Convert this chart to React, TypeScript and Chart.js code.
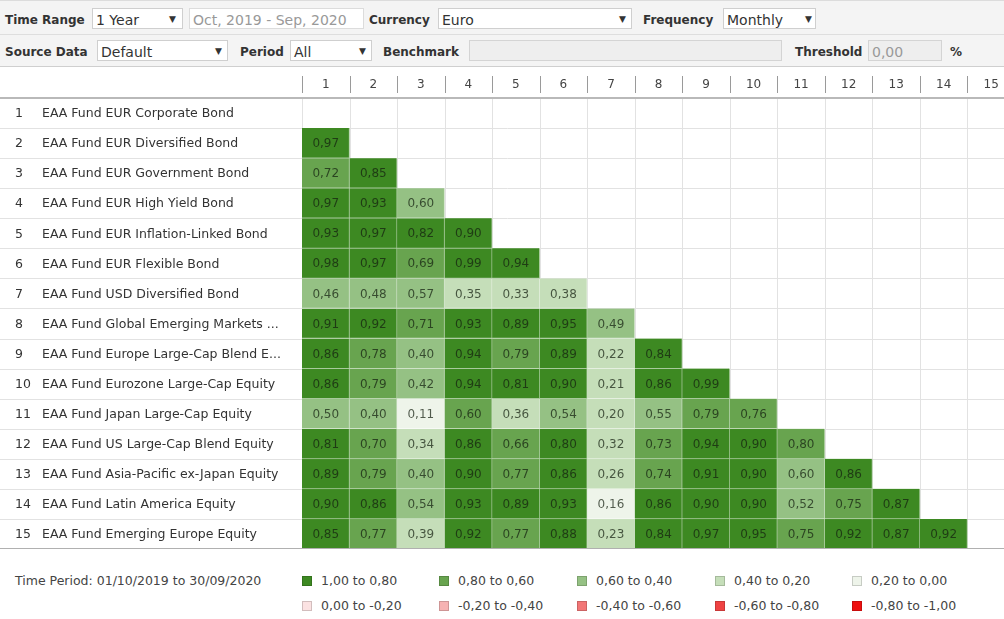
import React, { useEffect, useRef } from 'react';
import { Chart, registerables } from 'chart.js';

Chart.register(...registerables);

// ---------- DATA ----------
const columnLabels = ['1', '2', '3', '4', '5', '6', '7', '8', '9', '10', '11', '12', '13', '14', '15'];
const rowNumbers = ['1', '2', '3', '4', '5', '6', '7', '8', '9', '10', '11', '12', '13', '14', '15'];
const fundNames = [
  'EAA Fund EUR Corporate Bond',
  'EAA Fund EUR Diversified Bond',
  'EAA Fund EUR Government Bond',
  'EAA Fund EUR High Yield Bond',
  'EAA Fund EUR Inflation-Linked Bond',
  'EAA Fund EUR Flexible Bond',
  'EAA Fund USD Diversified Bond',
  'EAA Fund Global Emerging Markets ...',
  'EAA Fund Europe Large-Cap Blend E...',
  'EAA Fund Eurozone Large-Cap Equity',
  'EAA Fund Japan Large-Cap Equity',
  'EAA Fund US Large-Cap Blend Equity',
  'EAA Fund Asia-Pacific ex-Japan Equity',
  'EAA Fund Latin America Equity',
  'EAA Fund Emerging Europe Equity',
];

// lower-triangle correlations (row i vs columns 1..i-1)
const row1: number[] = [];
const row2 = [0.97];
const row3 = [0.72, 0.85];
const row4 = [0.97, 0.93, 0.598];
const row5 = [0.93, 0.97, 0.82, 0.90];
const row6 = [0.98, 0.97, 0.69, 0.99, 0.94];
const row7 = [0.46, 0.48, 0.57, 0.35, 0.33, 0.38];
const row8 = [0.91, 0.92, 0.71, 0.93, 0.89, 0.95, 0.49];
const row9 = [0.86, 0.78, 0.402, 0.94, 0.79, 0.89, 0.22, 0.84];
const row10 = [0.86, 0.79, 0.42, 0.94, 0.81, 0.90, 0.21, 0.86, 0.99];
const row11 = [0.50, 0.402, 0.11, 0.602, 0.36, 0.54, 0.202, 0.55, 0.79, 0.76];
const row12 = [0.81, 0.70, 0.34, 0.86, 0.66, 0.802, 0.32, 0.73, 0.94, 0.90, 0.798];
const row13 = [0.89, 0.79, 0.402, 0.90, 0.77, 0.86, 0.26, 0.74, 0.91, 0.90, 0.598, 0.86];
const row14 = [0.90, 0.86, 0.54, 0.93, 0.89, 0.93, 0.16, 0.86, 0.90, 0.90, 0.52, 0.75, 0.87];
const row15 = [0.85, 0.77, 0.39, 0.92, 0.77, 0.88, 0.23, 0.84, 0.97, 0.95, 0.75, 0.92, 0.87, 0.92];
const correlationRows = [row1, row2, row3, row4, row5, row6, row7, row8, row9, row10, row11, row12, row13, row14, row15];

const binLabels = [
  '1,00 to 0,80', '0,80 to 0,60', '0,60 to 0,40', '0,40 to 0,20', '0,20 to 0,00',
  '0,00 to -0,20', '-0,20 to -0,40', '-0,40 to -0,60', '-0,60 to -0,80', '-0,80 to -1,00',
];
const binLowerBounds = [0.8, 0.6, 0.4, 0.2, 0.0, -0.2, -0.4, -0.6, -0.8, -1.0];
const binColors = [
  '#3d8922', '#68a44f', '#95c184', '#c5deb9', '#eef4ea',
  '#fbe2e2', '#f6b2b2', '#f27676', '#ef4343', '#ee1010',
];

const timePeriodText = 'Time Period: 01/10/2019 to 30/09/2020';

// ---------- helpers ----------
const FONT = "'DejaVu Sans', Verdana, sans-serif";

function binIndex(v: number): number {
  for (let i = 0; i < binLowerBounds.length; i++) if (v >= binLowerBounds[i]) return i;
  return binLowerBounds.length - 1;
}
function colorFor(v: number): string {
  return binColors[binIndex(v)];
}
function mixWhite(hex: string, t: number): string {
  const n = parseInt(hex.slice(1), 16);
  const r = (n >> 16) & 255, g = (n >> 8) & 255, b = n & 255;
  const m = (c: number) => Math.round(c + (255 - c) * t);
  return `rgb(${m(r)},${m(g)},${m(b)})`;
}
function fmt(v: number): string {
  return v.toFixed(2).replace('.', ',');
}

const tablePlugin = {
  id: 'tableDecor',
  beforeDatasetsDraw(chart: any) {
    const { ctx, chartArea, scales } = chart;
    const x = scales.x, y = scales.y;
    ctx.save();
    ctx.lineWidth = 1;
    ctx.strokeStyle = '#e2e2e2';
    for (let i = 0; i <= columnLabels.length; i++) {
      const px = Math.round(x.getPixelForValue(i - 0.5)) + 0.5;
      ctx.beginPath();
      ctx.moveTo(px, chartArea.top);
      ctx.lineTo(px, chartArea.bottom);
      ctx.stroke();
    }
    for (let i = 1; i < rowNumbers.length; i++) {
      const py = Math.round(y.getPixelForValue(i + 0.5)) + 0.5;
      ctx.beginPath();
      ctx.moveTo(0, py);
      ctx.lineTo(chart.width, py);
      ctx.stroke();
    }
    ctx.restore();
  },
  afterDatasetsDraw(chart: any) {
    const { ctx, chartArea, scales } = chart;
    const x = scales.x, y = scales.y;
    ctx.save();
    ctx.strokeStyle = '#b9b9b9';
    ctx.lineWidth = 2;
    const topY = Math.round(y.getPixelForValue(0.5));
    ctx.beginPath();
    ctx.moveTo(0, topY);
    ctx.lineTo(chart.width, topY);
    ctx.stroke();
    ctx.lineWidth = 1;
    ctx.strokeStyle = '#b0b0b0';
    const botY = Math.round(y.getPixelForValue(rowNumbers.length + 0.5)) - 0.5;
    ctx.beginPath();
    ctx.moveTo(0, botY);
    ctx.lineTo(chart.width, botY);
    ctx.stroke();
    ctx.strokeStyle = '#9a9a9a';
    for (let i = 0; i < columnLabels.length; i++) {
      const px = Math.round(x.getPixelForValue(i - 0.5)) + 0.5;
      ctx.beginPath();
      ctx.moveTo(px, chartArea.top - 22);
      ctx.lineTo(px, chartArea.top - 5);
      ctx.stroke();
    }
    ctx.fillStyle = '#333';
    ctx.textBaseline = 'middle';
    ctx.textAlign = 'left';
    ctx.font = `12.5px ${FONT}`;
    for (let r = 0; r < rowNumbers.length; r++) {
      const py = y.getPixelForValue(r + 1) + 1;
      ctx.fillText(rowNumbers[r], 15, py);
      ctx.fillText(fundNames[r], 42, py);
    }
    ctx.textAlign = 'center';
    ctx.font = `12px ${FONT}`;
    ctx.fillStyle = 'rgba(20,30,15,0.72)';
    chart.data.datasets.forEach((_ds: any, di: number) => {
      const meta = chart.getDatasetMeta(di);
      const vals = correlationRows[di + 1];
      meta.data.forEach((el: any, ci: number) => {
        if (ci >= vals.length) return;
        const cy = (el.y + el.base) / 2;
        ctx.fillText(fmt(vals[ci]), el.x, cy + 1);
      });
    });
    ctx.restore();
  },
};

function CorrelationChart() {
  const ref = useRef<HTMLCanvasElement | null>(null);
  useEffect(() => {
    if (!ref.current) return;
    const datasets = correlationRows.slice(1).map((vals, idx) => {
      const rowNum = idx + 2;
      return {
        label: fundNames[rowNum - 1],
        data: columnLabels.map((_, c) => (c < vals.length ? [rowNum - 0.5, rowNum + 0.5] : null)),
        backgroundColor: columnLabels.map((_, c) => (c < vals.length ? colorFor(vals[c]) : 'transparent')),
        borderColor: columnLabels.map((_, c) => (c < vals.length ? mixWhite(colorFor(vals[c]), 0.55) : 'transparent')),
        borderWidth: { top: 0, left: 0, right: 1, bottom: 1 },
        borderSkipped: false,
        barPercentage: 1,
        categoryPercentage: 1,
        grouped: false,
      };
    });
    const chart = new Chart(ref.current, {
      type: 'bar',
      data: { labels: columnLabels, datasets: datasets as any },
      options: {
        animation: false,
        responsive: true,
        maintainAspectRatio: false,
        layout: { padding: { left: 302, right: 0, top: 1, bottom: 1 } },
        plugins: { legend: { display: false }, tooltip: { enabled: false } },
        scales: {
          x: {
            type: 'category',
            position: 'top',
            offset: true,
            grid: { display: false, drawTicks: false },
            border: { display: false },
            ticks: {
              color: '#444',
              font: { family: FONT, size: 12 },
              padding: 6,
              maxRotation: 0,
              autoSkip: false,
            },
            afterFit: (scale: any) => {
              scale.height = 30;
            },
          },
          y: {
            type: 'linear',
            display: false,
            min: 0.5,
            max: 15.5,
            reverse: true,
          },
        },
      },
      plugins: [tablePlugin],
    });
    return () => chart.destroy();
  }, []);
  return (
    <div style={{ position: 'relative', width: 1015, height: 483 }}>
      <canvas ref={ref} />
    </div>
  );
}

const labelStyle: React.CSSProperties = {
  position: 'absolute',
  fontFamily: FONT,
  fontWeight: 'bold',
  fontSize: 12,
  color: '#333',
  lineHeight: '21px',
  whiteSpace: 'nowrap',
};

function Label({ x, y, text }: { x: number; y: number; text: string }) {
  return <div style={{ ...labelStyle, left: x, top: y }}>{text}</div>;
}

function Box({ x, y, w, text, arrowX, bg, color, border }: { x: number; y: number; w: number; text: string; arrowX?: number; bg?: string; color?: string; border?: string }) {
  return (
    <div
      style={{
        position: 'absolute',
        left: x,
        top: y,
        width: w,
        height: 21,
        boxSizing: 'border-box',
        border: `1px solid ${border || '#cfcfcf'}`,
        background: bg || '#fff',
        fontFamily: FONT,
        fontSize: 14,
        color: color || '#333',
        lineHeight: '22px',
        paddingLeft: 3,
        whiteSpace: 'nowrap',
        overflow: 'hidden',
      }}
    >
      {text}
      {arrowX !== undefined && (
        <span style={{ position: 'absolute', left: arrowX - x - 5, top: 0, fontSize: 9, lineHeight: '21px', color: '#333' }}>▼</span>
      )}
    </div>
  );
}

function Toolbar() {
  return (
    <div style={{ position: 'relative', width: 1004, height: 67, background: '#f4f4f4', boxSizing: 'border-box', borderTop: '1px solid #dcdcdc', borderBottom: '1px solid #cfcfcf' }}>
      <div style={{ position: 'absolute', left: 0, top: 33, width: 1004, height: 1, background: '#dedede' }} />
      <Label x={5} y={9} text="Time Range" />
      <Box x={92} y={7} w={91} text="1 Year" arrowX={173} />
      <Box x={189} y={7} w={175} text="Oct, 2019 - Sep, 2020" color="#999" border="#dcdcdc" />
      <Label x={369} y={9} text="Currency" />
      <Box x={438} y={7} w={194} text="Euro" arrowX={623} />
      <Label x={643} y={9} text="Frequency" />
      <Box x={723} y={7} w={93} text="Monthly" arrowX={809} />

      <Label x={5} y={41} text="Source Data" />
      <Box x={97} y={39} w={131} text="Default" arrowX={219} />
      <Label x={240} y={41} text="Period" />
      <Box x={290} y={39} w={82} text="All" arrowX={363} />
      <Label x={383} y={41} text="Benchmark" />
      <Box x={469} y={39} w={313} text="" bg="#eeeeee" border="#d4d4d4" />
      <Label x={795} y={41} text="Threshold" />
      <Box x={868} y={39} w={74} text="0,00" bg="#eeeeee" color="#999" border="#d4d4d4" />
      <Label x={950} y={41} text="%" />
    </div>
  );
}

const legendXs = [302, 439, 577, 715, 852];

function Legend() {
  const textStyle: React.CSSProperties = {
    position: 'absolute',
    fontFamily: FONT,
    fontSize: 12.5,
    color: '#444',
    lineHeight: '16px',
    whiteSpace: 'nowrap',
  };
  return (
    <div style={{ position: 'relative', width: 1004, height: 69, background: '#fff' }}>
      <div style={{ ...textStyle, left: 15, top: 23 }}>{timePeriodText}</div>
      {binLabels.map((lab, i) => {
        const col = i % 5;
        const row = Math.floor(i / 5);
        const cy = 31 + row * 25;
        return (
          <React.Fragment key={lab}>
            <div
              style={{
                position: 'absolute',
                left: legendXs[col],
                top: cy - 5,
                width: 10,
                height: 10,
                boxSizing: 'border-box',
                background: binColors[i],
                border: '1px solid rgba(0,0,0,0.16)',
              }}
            />
            <div style={{ ...textStyle, left: legendXs[col] + 19, top: cy - 8 }}>{lab}</div>
          </React.Fragment>
        );
      })}
    </div>
  );
}

export default function App() {
  useEffect(() => {
    document.body.style.margin = '0';
    document.body.style.background = '#fff';
  }, []);
  return (
    <div style={{ width: 1004, height: 619, overflow: 'hidden', position: 'relative', background: '#fff' }}>
      <Toolbar />
      <CorrelationChart />
      <Legend />
    </div>
  );
}
